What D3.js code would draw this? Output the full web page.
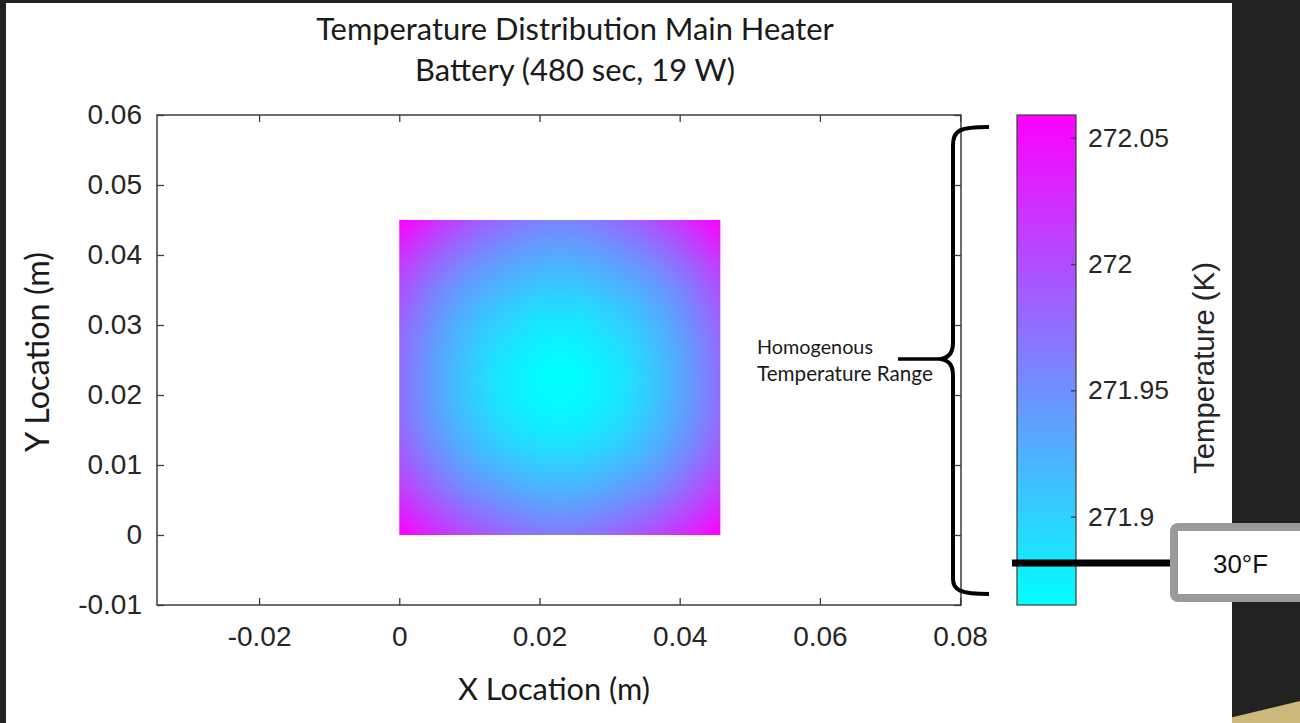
<!DOCTYPE html>
<html>
<head>
<meta charset="utf-8">
<script src="https://cdn.jsdelivr.net/npm/d3@7"></script>
<style>
  html, body { margin: 0; padding: 0; background: #222222; }
  svg { display: block; }
</style>
</head>
<body>
<svg id="chart" width="1300" height="723"></svg>
<script>
// ---------------- data ----------------
const titleLines = ["Temperature Distribution Main Heater", "Battery (480 sec, 19 W)"];
const xLabel = "X Location (m)";
const yLabel = "Y Location (m)";
const cbLabel = "Temperature (K)";
const xDomain = [-0.03456, 0.08013];
const yDomain = [-0.01, 0.06];
const xTicks = [-0.02, 0, 0.02, 0.04, 0.06, 0.08];
const xTickLabels = ["-0.02", "0", "0.02", "0.04", "0.06", "0.08"];
const yTicks = [-0.01, 0, 0.01, 0.02, 0.03, 0.04, 0.05, 0.06];
const yTickLabels = ["-0.01", "0", "0.01", "0.02", "0.03", "0.04", "0.05", "0.06"];
const tempDomain = [271.865, 272.059];
const cbTicks = [271.9, 271.95, 272, 272.05];
const cbTickLabels = ["271.9", "271.95", "272", "272.05"];
// battery extent (m)
const batteryX = [0, 0.0458];
const batteryY = [0, 0.045];
// temperature samples (K) on a 7x7 grid, top row = y max, left column = x min
const tempGrid = [
  [272.059, 272.009, 271.974, 271.958, 271.974, 272.009, 272.059],
  [272.009, 271.958, 271.929, 271.917, 271.929, 271.958, 272.009],
  [271.983, 271.929, 271.896, 271.881, 271.896, 271.929, 271.983],
  [271.975, 271.919, 271.881, 271.865, 271.881, 271.919, 271.975],
  [271.980, 271.927, 271.892, 271.879, 271.892, 271.927, 271.980],
  [272.009, 271.958, 271.929, 271.917, 271.929, 271.958, 272.009],
  [272.059, 272.012, 271.981, 271.966, 271.981, 272.012, 272.059]
];
const annotationLines = ["Homogenous", "Temperature Range"];
const markerLabel = "30°F";

// ---------------- layout ----------------
const svg = d3.select("#chart");
const plot = {left: 157, right: 961, top: 115, bottom: 605};
const cb = {left: 1017, right: 1076, top: 115, bottom: 605};
const axisColor = "#3c3c3c";
const textColor = "#262626";
const numFont = "'Liberation Sans', Arial, sans-serif";
const labelFont = "Lato, 'Open Sans', sans-serif";

const x = d3.scaleLinear().domain(xDomain).range([plot.left, plot.right]);
const y = d3.scaleLinear().domain(yDomain).range([plot.bottom, plot.top]);
const color = d3.scaleLinear().domain(tempDomain).range(["#00ffff", "#ff00ff"]).interpolate(d3.interpolateRgb).clamp(true);
const cbY = d3.scaleLinear().domain(tempDomain).range([cb.bottom, cb.top]);

// fit font size so that a text has a given width
function fit(sel, width) {
  sel.attr("font-size", 100);
  const w = sel.node().getComputedTextLength();
  sel.attr("font-size", 100 * width / w);
  return sel;
}

// background
svg.append("rect").attr("width", 1300).attr("height", 723).attr("fill", "#222222");
svg.append("path").attr("d", "M1200,725 L1300,701 L1300,723 Z").attr("fill", "#cdb87c");
svg.append("rect").attr("x", 6).attr("y", 3).attr("width", 1226).attr("height", 720).attr("fill", "#ffffff");

// ---------------- title ----------------
fit(svg.append("text").attr("x", 575).attr("y", 40).attr("text-anchor", "middle")
  .attr("font-family", labelFont).attr("fill", "#1a1a1a").text(titleLines[0]), 518);
fit(svg.append("text").attr("x", 575).attr("y", 81).attr("text-anchor", "middle")
  .attr("font-family", labelFont).attr("fill", "#1a1a1a").text(titleLines[1]), 320);

// ---------------- heat map ----------------
function cr(p0, p1, p2, p3, t) {
  const t2 = t * t, t3 = t2 * t;
  return 0.5 * ((2 * p1) + (-p0 + p2) * t + (2 * p0 - 5 * p1 + 4 * p2 - p3) * t2 + (-p0 + 3 * p1 - 3 * p2 + p3) * t3);
}
function sampleRow(row, u) {
  const n = row.length;
  const i = Math.min(Math.floor(u), n - 2);
  const t = u - i;
  const g = k => row[Math.max(0, Math.min(n - 1, k))];
  const p0 = i - 1 < 0 ? 2 * g(0) - g(1) : g(i - 1);
  const p3 = i + 2 > n - 1 ? 2 * g(n - 1) - g(n - 2) : g(i + 2);
  return cr(p0, g(i), g(i + 1), p3, t);
}
function sampleGrid(u, v) {
  const col = tempGrid.map(r => sampleRow(r, u));
  return sampleRow(col, v);
}
const hx0 = x(batteryX[0]), hx1 = x(batteryX[1]);
const hy0 = y(batteryY[1]), hy1 = y(batteryY[0]);
const cw = Math.round(hx1 - hx0), ch = Math.round(hy1 - hy0);
const canvas = document.createElement("canvas");
canvas.width = cw; canvas.height = ch;
const ctx = canvas.getContext("2d");
const img = ctx.createImageData(cw, ch);
const nC = tempGrid[0].length - 1, nR = tempGrid.length - 1;
for (let j = 0; j < ch; j++) {
  for (let i = 0; i < cw; i++) {
    const u = (i + 0.5) / cw * nC;
    const v = (j + 0.5) / ch * nR;
    const c = d3.rgb(color(sampleGrid(u, v)));
    const k = (j * cw + i) * 4;
    img.data[k] = c.r; img.data[k + 1] = c.g; img.data[k + 2] = c.b; img.data[k + 3] = 255;
  }
}
ctx.putImageData(img, 0, 0);
svg.append("image").attr("x", hx0).attr("y", hy0).attr("width", hx1 - hx0).attr("height", hy1 - hy0)
  .attr("preserveAspectRatio", "none").attr("href", canvas.toDataURL());

// ---------------- axes ----------------
const tickLen = 7;
const gx = svg.append("g").attr("transform", `translate(0,${plot.bottom})`)
  .call(d3.axisBottom(x).tickValues(xTicks).tickSizeInner(-tickLen).tickSizeOuter(0).tickPadding(21)
    .tickFormat((d, i) => xTickLabels[i]));
const gxt = svg.append("g").attr("transform", `translate(0,${plot.top})`)
  .call(d3.axisTop(x).tickValues(xTicks).tickSizeInner(-tickLen).tickSizeOuter(0).tickFormat(""));
const gy = svg.append("g").attr("transform", `translate(${plot.left},0)`)
  .call(d3.axisLeft(y).tickValues(yTicks).tickSizeInner(-tickLen).tickSizeOuter(0).tickPadding(15)
    .tickFormat((d, i) => yTickLabels[i]));
const gyr = svg.append("g").attr("transform", `translate(${plot.right},0)`)
  .call(d3.axisRight(y).tickValues(yTicks).tickSizeInner(-tickLen).tickSizeOuter(0).tickFormat(""));
[gx, gxt, gy, gyr].forEach(g => {
  g.select(".domain").remove();
  g.selectAll("line").attr("stroke", axisColor).attr("stroke-width", 1.3);
  g.selectAll("text").attr("font-family", numFont).attr("font-size", 28).attr("fill", textColor);
});
gx.selectAll("text").attr("dy", "0.71em");
svg.append("rect").attr("x", plot.left).attr("y", plot.top)
  .attr("width", plot.right - plot.left).attr("height", plot.bottom - plot.top)
  .attr("fill", "none").attr("stroke", axisColor).attr("stroke-width", 1.5);

// axis labels
fit(svg.append("text").attr("x", 554).attr("y", 700).attr("text-anchor", "middle")
  .attr("font-family", labelFont).attr("fill", "#1a1a1a").text(xLabel), 192);
fit(svg.append("text").attr("transform", "translate(49,352) rotate(-90)").attr("text-anchor", "middle")
  .attr("font-family", labelFont).attr("fill", "#1a1a1a").text(yLabel), 200);

// ---------------- colorbar ----------------
const defs = svg.append("defs");
const grad = defs.append("linearGradient").attr("id", "cbgrad")
  .attr("x1", 0).attr("y1", 1).attr("x2", 0).attr("y2", 0);
grad.selectAll("stop").data(d3.range(0, 1.0001, 0.1)).join("stop")
  .attr("offset", d => d)
  .attr("stop-color", d => color(tempDomain[0] + d * (tempDomain[1] - tempDomain[0])));
svg.append("rect").attr("x", cb.left).attr("y", cbY(tempDomain[1]))
  .attr("width", cb.right - cb.left).attr("height", cbY(tempDomain[0]) - cbY(tempDomain[1]))
  .attr("fill", "url(#cbgrad)").attr("stroke", axisColor).attr("stroke-width", 1.2);
const gcb = svg.append("g").attr("transform", `translate(${cb.right},0)`)
  .call(d3.axisRight(cbY).tickValues(cbTicks).tickSizeInner(-5).tickSizeOuter(0).tickPadding(12)
    .tickFormat((d, i) => cbTickLabels[i]));
gcb.select(".domain").remove();
gcb.selectAll("line").attr("stroke", axisColor).attr("stroke-width", 1.3);
gcb.selectAll("text").attr("font-family", numFont).attr("font-size", 26.5).attr("fill", textColor);
fit(svg.append("text").attr("transform", "translate(1214,368) rotate(-90)").attr("text-anchor", "middle")
  .attr("font-family", numFont).attr("fill", textColor).text(cbLabel), 212);

// ---------------- annotations ----------------
const brace = d3.path();
brace.moveTo(989, 127);
brace.bezierCurveTo(960, 127, 953, 130, 953, 145);
brace.lineTo(953, 342);
brace.bezierCurveTo(953, 352, 950, 357, 941, 359);
brace.bezierCurveTo(950, 361, 953, 366, 953, 376);
brace.lineTo(953, 579);
brace.bezierCurveTo(953, 590, 960, 594, 989, 594);
svg.append("path").attr("d", brace.toString()).attr("fill", "none")
  .attr("stroke", "#000").attr("stroke-width", 4).attr("stroke-linejoin", "round");
svg.append("line").attr("x1", 898).attr("x2", 944).attr("y1", 359).attr("y2", 359)
  .attr("stroke", "#000").attr("stroke-width", 3.5);
fit(svg.append("text").attr("x", 757).attr("y", 354).attr("font-family", labelFont)
  .attr("fill", "#1a1a1a").text(annotationLines[0]), 116);
fit(svg.append("text").attr("x", 757).attr("y", 381).attr("font-family", labelFont)
  .attr("fill", "#1a1a1a").text(annotationLines[1]), 176);

svg.append("line").attr("x1", 1012).attr("x2", 1176).attr("y1", 563).attr("y2", 563)
  .attr("stroke", "#000").attr("stroke-width", 7);
svg.append("rect").attr("x", 1174).attr("y", 527).attr("width", 200).attr("height", 71).attr("rx", 4)
  .attr("fill", "#fff").attr("stroke", "#9a9a9a").attr("stroke-width", 8);
fit(svg.append("text").attr("x", 1213).attr("y", 573).attr("font-family", numFont)
  .attr("fill", "#111").text(markerLabel), 55);
</script>
</body>
</html>
